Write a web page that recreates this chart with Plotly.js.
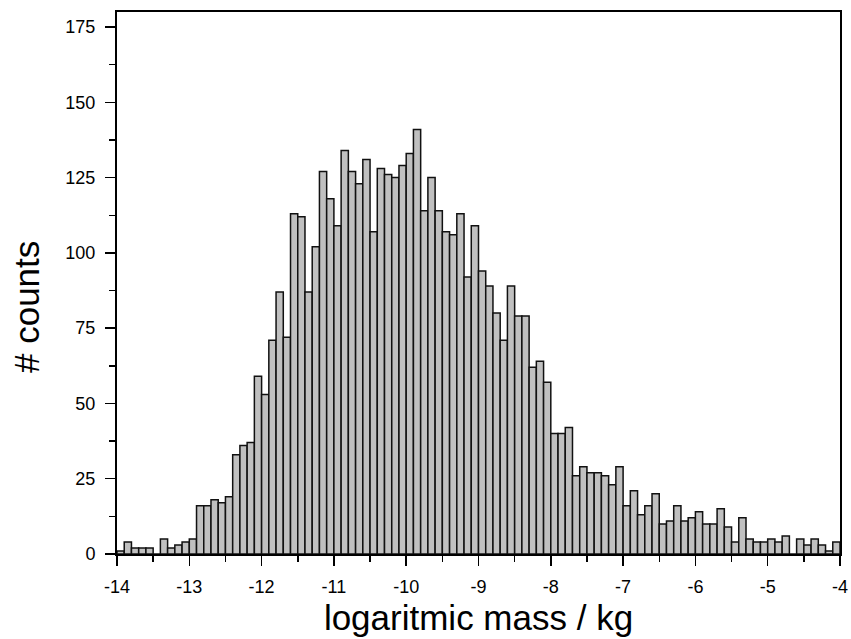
<!DOCTYPE html>
<html>
<head>
<meta charset="utf-8">
<script src="https://cdn.plot.ly/plotly-3.0.1.min.js"></script>
<style>html,body{margin:0;padding:0;background:#fff;}#chart{width:851px;height:639px;}</style>
</head>
<body>
<div id="chart"></div>
<script>
// Histogram bins: left edge of first bin and bin width (in log10 kg)
const binStart = -14.0;
const binWidth = 0.1;
// Counts per bin, from -14.0 to -4.0
const counts = [
  1, 4, 2, 2, 2, 0, 5, 2, 3, 4,
  5, 16, 16, 18, 17, 19, 33, 36, 37, 59,
  53, 71, 87, 72, 113, 112, 87, 102, 127, 118,
  109, 134, 127, 123, 131, 107, 128, 126, 125, 129,
  133, 141, 114, 125, 114, 107, 106, 113, 92, 109,
  94, 89, 80, 71, 89, 79, 79, 62, 64, 57,
  40, 40, 42, 26, 29, 27, 27, 26, 23, 29,
  16, 21, 13, 16, 20, 10, 11, 16, 11, 12,
  14, 10, 10, 15, 9, 4, 12, 5, 4, 4,
  5, 4, 6, 0, 5, 3, 5, 3, 1, 4
];
const xTickVals = [-14, -13, -12, -11, -10, -9, -8, -7, -6, -5, -4];
const xTickText = ['-14', '-13', '-12', '-11', '-10', '-9', '-8', '-7', '-6', '-5', '-4'];
const yTickVals = [0, 25, 50, 75, 100, 125, 150, 175];

const centers = counts.map((_, i) => binStart + binWidth * (i + 0.5));

const trace = {
  type: 'bar',
  x: centers,
  y: counts,
  width: binWidth,
  marker: { color: '#c0c0c0', line: { color: '#111111', width: 1.5 } },
  hoverinfo: 'x+y'
};

const fontFam = 'Liberation Sans, Arial, sans-serif';
const layout = {
  width: 851, height: 639,
  margin: { l: 117, r: 11, t: 12, b: 85 },
  paper_bgcolor: '#ffffff', plot_bgcolor: '#ffffff',
  bargap: 0,
  showlegend: false,
  font: { family: fontFam, color: '#000000', size: 18 },
  xaxis: {
    range: [-14, -4],
    tickmode: 'array', tickvals: xTickVals, ticktext: xTickText,
    ticks: 'outside', ticklen: 10, tickwidth: 1.5, tickcolor: '#000',
    minor: { dtick: 0.5, tick0: -14, ticks: 'outside', ticklen: 6, tickwidth: 1.5, tickcolor: '#000', showgrid: false },
    showline: true, linecolor: '#000', linewidth: 2, mirror: true,
    showgrid: false, zeroline: false,
    ticklabelstandoff: 5,
    tickfont: { family: fontFam, size: 18, color: '#000' },
    title: { text: 'logaritmic mass / kg', font: { family: fontFam, size: 35, color: '#000' }, standoff: 10 }
  },
  yaxis: {
    range: [0, 180],
    tickmode: 'array', tickvals: yTickVals,
    ticks: 'outside', ticklen: 10, tickwidth: 1.5, tickcolor: '#000',
    minor: { dtick: 12.5, tick0: 0, ticks: 'outside', ticklen: 6, tickwidth: 1.5, tickcolor: '#000', showgrid: false },
    showline: true, linecolor: '#000', linewidth: 2, mirror: true,
    showgrid: false, zeroline: false,
    ticklabelstandoff: 6,
    tickfont: { family: fontFam, size: 18, color: '#000' }
  },
  annotations: [{
    text: '# counts', textangle: -90, showarrow: false,
    xref: 'paper', yref: 'paper', x: -0.125, y: 0.455,
    xanchor: 'center', yanchor: 'middle',
    font: { family: fontFam, size: 35, color: '#000' }
  }]
};

Plotly.newPlot('chart', [trace], layout, { displayModeBar: false, staticPlot: true });
</script>
</body>
</html>
